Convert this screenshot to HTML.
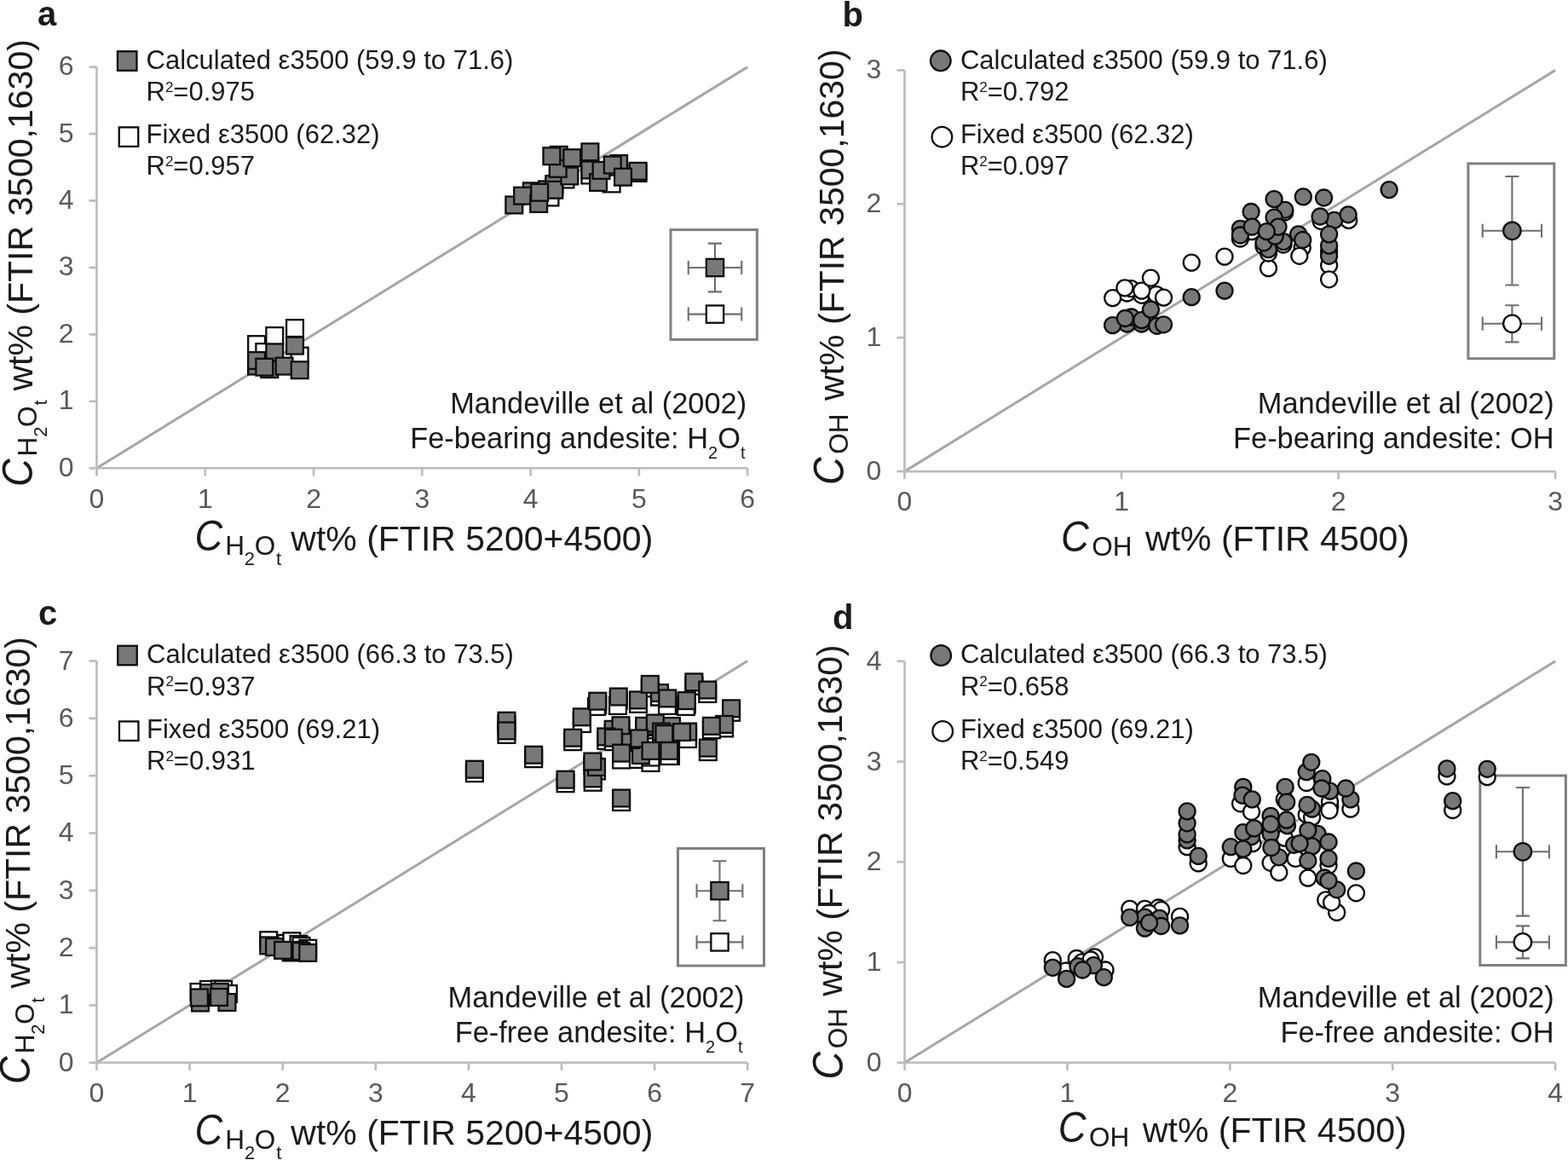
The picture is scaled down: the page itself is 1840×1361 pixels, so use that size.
<!DOCTYPE html>
<html><head><meta charset="utf-8"><title>Figure</title><style>
html,body{margin:0;padding:0;background:#fff;}
body{width:1840px;height:1361px;overflow:hidden;}
svg{display:block;}
text{font-family:"Liberation Sans",Arial,sans-serif;}
.tk{font-size:32px;fill:#595959;}
.lg{font-size:31px;fill:#1a1a1a;}
.sup{font-size:17px;}
.sub{font-size:20px;}
.md{font-size:34.4px;fill:#1a1a1a;}
.lbl{font-size:40px;font-weight:bold;fill:#1a1a1a;}
.tt{font-size:41px;fill:#1a1a1a;}
.tc{font-size:50px;font-style:italic;fill:#1a1a1a;}
.ts{font-size:31.5px;fill:#1a1a1a;}
.tss{font-size:22px;fill:#1a1a1a;}
</style></head>
<body><svg width="1840" height="1361" viewBox="0 0 1840 1361">
<rect width="1840" height="1361" fill="#fff"/>
<g>
<line x1="113.5" y1="549.3" x2="877.2" y2="78.6" stroke="#a6a6a6" stroke-width="3"/>
<line x1="113.5" y1="549.3" x2="877.2" y2="549.3" stroke="#bbbbbb" stroke-width="2.6"/>
<line x1="113.5" y1="550.6" x2="113.5" y2="78.6" stroke="#bbbbbb" stroke-width="2.6"/>
<line x1="113.5" y1="549.3" x2="113.5" y2="558.3" stroke="#bbbbbb" stroke-width="2.6"/>
<text x="113.5" y="596" text-anchor="middle" class="tk">0</text>
<line x1="240.78" y1="549.3" x2="240.78" y2="558.3" stroke="#bbbbbb" stroke-width="2.6"/>
<text x="240.78" y="596" text-anchor="middle" class="tk">1</text>
<line x1="368.07" y1="549.3" x2="368.07" y2="558.3" stroke="#bbbbbb" stroke-width="2.6"/>
<text x="368.07" y="596" text-anchor="middle" class="tk">2</text>
<line x1="495.35" y1="549.3" x2="495.35" y2="558.3" stroke="#bbbbbb" stroke-width="2.6"/>
<text x="495.35" y="596" text-anchor="middle" class="tk">3</text>
<line x1="622.63" y1="549.3" x2="622.63" y2="558.3" stroke="#bbbbbb" stroke-width="2.6"/>
<text x="622.63" y="596" text-anchor="middle" class="tk">4</text>
<line x1="749.92" y1="549.3" x2="749.92" y2="558.3" stroke="#bbbbbb" stroke-width="2.6"/>
<text x="749.92" y="596" text-anchor="middle" class="tk">5</text>
<line x1="877.2" y1="549.3" x2="877.2" y2="558.3" stroke="#bbbbbb" stroke-width="2.6"/>
<text x="877.2" y="596" text-anchor="middle" class="tk">6</text>
<line x1="104.5" y1="549.3" x2="113.5" y2="549.3" stroke="#bbbbbb" stroke-width="2.6"/>
<text x="86.5" y="558.8" text-anchor="end" class="tk">0</text>
<line x1="104.5" y1="470.85" x2="113.5" y2="470.85" stroke="#bbbbbb" stroke-width="2.6"/>
<text x="86.5" y="480.35" text-anchor="end" class="tk">1</text>
<line x1="104.5" y1="392.4" x2="113.5" y2="392.4" stroke="#bbbbbb" stroke-width="2.6"/>
<text x="86.5" y="401.9" text-anchor="end" class="tk">2</text>
<line x1="104.5" y1="313.95" x2="113.5" y2="313.95" stroke="#bbbbbb" stroke-width="2.6"/>
<text x="86.5" y="323.45" text-anchor="end" class="tk">3</text>
<line x1="104.5" y1="235.5" x2="113.5" y2="235.5" stroke="#bbbbbb" stroke-width="2.6"/>
<text x="86.5" y="245" text-anchor="end" class="tk">4</text>
<line x1="104.5" y1="157.05" x2="113.5" y2="157.05" stroke="#bbbbbb" stroke-width="2.6"/>
<text x="86.5" y="166.55" text-anchor="end" class="tk">5</text>
<line x1="104.5" y1="78.6" x2="113.5" y2="78.6" stroke="#bbbbbb" stroke-width="2.6"/>
<text x="86.5" y="88.1" text-anchor="end" class="tk">6</text>
<text x="44" y="30.3" class="lbl">a</text>
<rect x="137.95" y="60.25" width="22.5" height="22.5" fill="#787878" stroke="#0d0d0d" stroke-width="2.3"/>
<rect x="139.75" y="149.35" width="22.5" height="22.5" fill="#fff" stroke="#0d0d0d" stroke-width="2.3"/>
<text x="171.5" y="81.3" class="lg">Calculated ε3500 (59.9 to 71.6)</text>
<text x="171.5" y="118.3" class="lg">R<tspan class="sup" dy="-10.4">2</tspan><tspan dy="10.4">=0.975</tspan></text>
<text x="171.5" y="168.3" class="lg">Fixed ε3500 (62.32)</text>
<text x="171.5" y="205.2" class="lg">R<tspan class="sup" dy="-10.4">2</tspan><tspan dy="10.4">=0.957</tspan></text>
<text x="876.1" y="485.4" text-anchor="end" class="md">Mandeville et al (2002)</text>
<text x="874.5" y="526" text-anchor="end" class="md">Fe-bearing andesite: H<tspan class="sub" dy="11.8">2</tspan><tspan dy="-11.8">O</tspan><tspan class="sub" dy="11.8">t</tspan></text>
<text class="tc" transform="translate(228.5 646.2) scale(0.91 1)">C</text>
<text><tspan class="ts" x="264.2" y="650.6">H</tspan><tspan class="tss" x="286.8" y="663">2</tspan><tspan class="ts" x="298.7" y="650.6">O</tspan><tspan class="tss" x="324.05" y="663">t</tspan><tspan class="tt" x="341.3" y="646">wt% (FTIR 5200+4500)</tspan></text>
<text class="tc" transform="rotate(-90) translate(-571.1 38.2) scale(0.91 1)">C</text>
<text transform="rotate(-90)"><tspan class="ts" x="-535.4" y="42.6">H</tspan><tspan class="tss" x="-512.8" y="55">2</tspan><tspan class="ts" x="-500.9" y="42.6">O</tspan><tspan class="tss" x="-475.55" y="55">t</tspan><tspan class="tt" x="-458.6" y="38">wt% (FTIR 3500,1630)</tspan></text>
<rect x="787" y="269.6" width="101.4" height="128.8" fill="#fff" stroke="#808080" stroke-width="3"/>
<path d="M807.75 314H839M839 314H870.25M807.75 306V322M870.25 306V322" stroke="#6f6f6f" stroke-width="2.1" fill="none"/>
<path d="M839 285.6V342.4M831 285.6H847M831 342.4H847" stroke="#6f6f6f" stroke-width="2.1" fill="none"/>
<rect x="828.85" y="303.85" width="20.3" height="20.3" fill="#787878" stroke="#0d0d0d" stroke-width="2.3"/>
<path d="M807.75 368.6H839M839 368.6H870.25M807.75 360.6V376.6M870.25 360.6V376.6" stroke="#6f6f6f" stroke-width="2.1" fill="none"/>
<rect x="828.85" y="358.45" width="20.3" height="20.3" fill="#fff" stroke="#0d0d0d" stroke-width="2.3"/>
<rect x="291.2" y="394.2" width="19.8" height="19.8" fill="#fff" stroke="#0d0d0d" stroke-width="2.3"/>
<rect x="300.4" y="403.1" width="19.8" height="19.8" fill="#fff" stroke="#0d0d0d" stroke-width="2.3"/>
<rect x="312.4" y="384.1" width="19.8" height="19.8" fill="#fff" stroke="#0d0d0d" stroke-width="2.3"/>
<rect x="336.1" y="375.2" width="19.8" height="19.8" fill="#fff" stroke="#0d0d0d" stroke-width="2.3"/>
<rect x="341.8" y="407.7" width="19.8" height="19.8" fill="#fff" stroke="#0d0d0d" stroke-width="2.3"/>
<rect x="291.2" y="419.1" width="19.8" height="19.8" fill="#fff" stroke="#0d0d0d" stroke-width="2.3"/>
<rect x="682.5" y="195.6" width="19.8" height="19.8" fill="#fff" stroke="#0d0d0d" stroke-width="2.3"/>
<rect x="707.8" y="205.6" width="19.8" height="19.8" fill="#fff" stroke="#0d0d0d" stroke-width="2.3"/>
<rect x="653.6" y="200.6" width="19.8" height="19.8" fill="#fff" stroke="#0d0d0d" stroke-width="2.3"/>
<rect x="635.6" y="221.6" width="19.8" height="19.8" fill="#fff" stroke="#0d0d0d" stroke-width="2.3"/>
<rect x="640.4" y="209.1" width="19.8" height="19.8" fill="#fff" stroke="#0d0d0d" stroke-width="2.3"/>
<rect x="291.2" y="419.6" width="19.8" height="19.8" fill="#787878" stroke="#0d0d0d" stroke-width="2.3"/>
<rect x="291.2" y="413.1" width="19.8" height="19.8" fill="#787878" stroke="#0d0d0d" stroke-width="2.3"/>
<rect x="306.4" y="423.2" width="19.8" height="19.8" fill="#787878" stroke="#0d0d0d" stroke-width="2.3"/>
<rect x="312.4" y="403.5" width="19.8" height="19.8" fill="#787878" stroke="#0d0d0d" stroke-width="2.3"/>
<rect x="336.1" y="395.7" width="19.8" height="19.8" fill="#787878" stroke="#0d0d0d" stroke-width="2.3"/>
<rect x="300.4" y="420.8" width="19.8" height="19.8" fill="#787878" stroke="#0d0d0d" stroke-width="2.3"/>
<rect x="323.7" y="419.7" width="19.8" height="19.8" fill="#787878" stroke="#0d0d0d" stroke-width="2.3"/>
<rect x="341.8" y="424.3" width="19.8" height="19.8" fill="#787878" stroke="#0d0d0d" stroke-width="2.3"/>
<rect x="593.4" y="230.6" width="19.8" height="19.8" fill="#787878" stroke="#0d0d0d" stroke-width="2.3"/>
<rect x="614" y="214.4" width="19.8" height="19.8" fill="#787878" stroke="#0d0d0d" stroke-width="2.3"/>
<rect x="603.2" y="219.8" width="19.8" height="19.8" fill="#787878" stroke="#0d0d0d" stroke-width="2.3"/>
<rect x="632.1" y="212.5" width="19.8" height="19.8" fill="#787878" stroke="#0d0d0d" stroke-width="2.3"/>
<rect x="640.4" y="206.1" width="19.8" height="19.8" fill="#787878" stroke="#0d0d0d" stroke-width="2.3"/>
<rect x="640.4" y="212.9" width="19.8" height="19.8" fill="#787878" stroke="#0d0d0d" stroke-width="2.3"/>
<rect x="622.3" y="229.1" width="19.8" height="19.8" fill="#787878" stroke="#0d0d0d" stroke-width="2.3"/>
<rect x="623.3" y="215.9" width="19.8" height="19.8" fill="#787878" stroke="#0d0d0d" stroke-width="2.3"/>
<rect x="658.5" y="196.6" width="19.8" height="19.8" fill="#787878" stroke="#0d0d0d" stroke-width="2.3"/>
<rect x="645.8" y="171.9" width="19.8" height="19.8" fill="#787878" stroke="#0d0d0d" stroke-width="2.3"/>
<rect x="644.8" y="188" width="19.8" height="19.8" fill="#787878" stroke="#0d0d0d" stroke-width="2.3"/>
<rect x="637.5" y="173.3" width="19.8" height="19.8" fill="#787878" stroke="#0d0d0d" stroke-width="2.3"/>
<rect x="661.4" y="175.3" width="19.8" height="19.8" fill="#787878" stroke="#0d0d0d" stroke-width="2.3"/>
<rect x="682.5" y="189.5" width="19.8" height="19.8" fill="#787878" stroke="#0d0d0d" stroke-width="2.3"/>
<rect x="692.2" y="204.1" width="19.8" height="19.8" fill="#787878" stroke="#0d0d0d" stroke-width="2.3"/>
<rect x="695.7" y="190" width="19.8" height="19.8" fill="#787878" stroke="#0d0d0d" stroke-width="2.3"/>
<rect x="682.5" y="168.4" width="19.8" height="19.8" fill="#787878" stroke="#0d0d0d" stroke-width="2.3"/>
<rect x="716.2" y="182.1" width="19.8" height="19.8" fill="#787878" stroke="#0d0d0d" stroke-width="2.3"/>
<rect x="708.9" y="183.6" width="19.8" height="19.8" fill="#787878" stroke="#0d0d0d" stroke-width="2.3"/>
<rect x="738.7" y="193.1" width="19.8" height="19.8" fill="#787878" stroke="#0d0d0d" stroke-width="2.3"/>
<rect x="738.7" y="190.9" width="19.8" height="19.8" fill="#787878" stroke="#0d0d0d" stroke-width="2.3"/>
<rect x="721.1" y="197.8" width="19.8" height="19.8" fill="#787878" stroke="#0d0d0d" stroke-width="2.3"/>
</g>
<g>
<line x1="1061.5" y1="553.1" x2="1825.1" y2="82.4" stroke="#a6a6a6" stroke-width="3"/>
<line x1="1061.5" y1="553.1" x2="1825.1" y2="553.1" stroke="#bbbbbb" stroke-width="2.6"/>
<line x1="1061.5" y1="554.4" x2="1061.5" y2="82.4" stroke="#bbbbbb" stroke-width="2.6"/>
<line x1="1061.5" y1="553.1" x2="1061.5" y2="562.1" stroke="#bbbbbb" stroke-width="2.6"/>
<text x="1061.5" y="599.4" text-anchor="middle" class="tk">0</text>
<line x1="1316.03" y1="553.1" x2="1316.03" y2="562.1" stroke="#bbbbbb" stroke-width="2.6"/>
<text x="1316.03" y="599.4" text-anchor="middle" class="tk">1</text>
<line x1="1570.57" y1="553.1" x2="1570.57" y2="562.1" stroke="#bbbbbb" stroke-width="2.6"/>
<text x="1570.57" y="599.4" text-anchor="middle" class="tk">2</text>
<line x1="1825.1" y1="553.1" x2="1825.1" y2="562.1" stroke="#bbbbbb" stroke-width="2.6"/>
<text x="1825.1" y="599.4" text-anchor="middle" class="tk">3</text>
<line x1="1052.5" y1="553.1" x2="1061.5" y2="553.1" stroke="#bbbbbb" stroke-width="2.6"/>
<text x="1034.2" y="563.1" text-anchor="end" class="tk">0</text>
<line x1="1052.5" y1="396.2" x2="1061.5" y2="396.2" stroke="#bbbbbb" stroke-width="2.6"/>
<text x="1034.2" y="406.2" text-anchor="end" class="tk">1</text>
<line x1="1052.5" y1="239.3" x2="1061.5" y2="239.3" stroke="#bbbbbb" stroke-width="2.6"/>
<text x="1034.2" y="249.3" text-anchor="end" class="tk">2</text>
<line x1="1052.5" y1="82.4" x2="1061.5" y2="82.4" stroke="#bbbbbb" stroke-width="2.6"/>
<text x="1034.2" y="92.4" text-anchor="end" class="tk">3</text>
<text x="988.6" y="30.5" class="lbl">b</text>
<circle cx="1103.8" cy="71.3" r="11.8" fill="#787878" stroke="#0d0d0d" stroke-width="2.3"/>
<circle cx="1105.4" cy="160.7" r="11.8" fill="#fff" stroke="#0d0d0d" stroke-width="2.3"/>
<text x="1126.9" y="81.3" class="lg">Calculated ε3500 (59.9 to 71.6)</text>
<text x="1126.9" y="118.3" class="lg">R<tspan class="sup" dy="-10.4">2</tspan><tspan dy="10.4">=0.792</tspan></text>
<text x="1126.9" y="168.3" class="lg">Fixed ε3500 (62.32)</text>
<text x="1126.9" y="205.2" class="lg">R<tspan class="sup" dy="-10.4">2</tspan><tspan dy="10.4">=0.097</tspan></text>
<text x="1823.7" y="485.4" text-anchor="end" class="md">Mandeville et al (2002)</text>
<text x="1823.6" y="525.6" text-anchor="end" class="md">Fe-bearing andesite: OH</text>
<text class="tc" transform="translate(1245.1 646.5) scale(0.91 1)">C</text>
<text><tspan class="ts" x="1281.3" y="651.5">OH</tspan><tspan class="tt" x="1344.1" y="646.3">wt% (FTIR 4500)</tspan></text>
<text class="tc" transform="rotate(-90) translate(-569 990.2) scale(0.91 1)">C</text>
<text transform="rotate(-90)"><tspan class="ts" x="-532.8" y="995.2">OH</tspan><tspan class="tt" x="-469.9" y="990">wt% (FTIR 3500,1630)</tspan></text>
<rect x="1722.9" y="191.9" width="100.9" height="228.8" fill="#fff" stroke="#808080" stroke-width="3"/>
<path d="M1739.75 270.8H1774.4M1774.4 270.8H1809.05M1739.75 262.8V278.8M1809.05 262.8V278.8" stroke="#6f6f6f" stroke-width="2.1" fill="none"/>
<path d="M1774.4 207.05V334.55M1766.4 207.05H1782.4M1766.4 334.55H1782.4" stroke="#6f6f6f" stroke-width="2.1" fill="none"/>
<circle cx="1774.4" cy="270.8" r="10.25" fill="#787878" stroke="#0d0d0d" stroke-width="2.3"/>
<path d="M1739.75 379.8H1774.4M1774.4 379.8H1809.05M1739.75 371.8V387.8M1809.05 371.8V387.8" stroke="#6f6f6f" stroke-width="2.1" fill="none"/>
<path d="M1774.4 358.2V401.4M1766.4 358.2H1782.4M1766.4 401.4H1782.4" stroke="#6f6f6f" stroke-width="2.1" fill="none"/>
<circle cx="1774.4" cy="379.8" r="10.25" fill="#fff" stroke="#0d0d0d" stroke-width="2.3"/>
<circle cx="1322.5" cy="344" r="9.5" fill="#fff" stroke="#0d0d0d" stroke-width="2.3"/>
<circle cx="1339.7" cy="346.3" r="9.5" fill="#fff" stroke="#0d0d0d" stroke-width="2.3"/>
<circle cx="1357" cy="345.6" r="9.5" fill="#fff" stroke="#0d0d0d" stroke-width="2.3"/>
<circle cx="1305.7" cy="349.6" r="9.5" fill="#fff" stroke="#0d0d0d" stroke-width="2.3"/>
<circle cx="1327.2" cy="338.6" r="9.5" fill="#fff" stroke="#0d0d0d" stroke-width="2.3"/>
<circle cx="1319.9" cy="337.8" r="9.5" fill="#fff" stroke="#0d0d0d" stroke-width="2.3"/>
<circle cx="1339.7" cy="341.1" r="9.5" fill="#fff" stroke="#0d0d0d" stroke-width="2.3"/>
<circle cx="1350.4" cy="326.1" r="9.5" fill="#fff" stroke="#0d0d0d" stroke-width="2.3"/>
<circle cx="1365.5" cy="349.2" r="9.5" fill="#fff" stroke="#0d0d0d" stroke-width="2.3"/>
<circle cx="1398.2" cy="308.1" r="9.5" fill="#fff" stroke="#0d0d0d" stroke-width="2.3"/>
<circle cx="1437" cy="301.1" r="9.5" fill="#fff" stroke="#0d0d0d" stroke-width="2.3"/>
<circle cx="1488.5" cy="314.6" r="9.5" fill="#fff" stroke="#0d0d0d" stroke-width="2.3"/>
<circle cx="1468.7" cy="271.6" r="9.5" fill="#fff" stroke="#0d0d0d" stroke-width="2.3"/>
<circle cx="1507.8" cy="249" r="9.5" fill="#fff" stroke="#0d0d0d" stroke-width="2.3"/>
<circle cx="1506" cy="287" r="9.5" fill="#fff" stroke="#0d0d0d" stroke-width="2.3"/>
<circle cx="1550.2" cy="259.5" r="9.5" fill="#fff" stroke="#0d0d0d" stroke-width="2.3"/>
<circle cx="1582.7" cy="258.4" r="9.5" fill="#fff" stroke="#0d0d0d" stroke-width="2.3"/>
<circle cx="1528.2" cy="290.4" r="9.5" fill="#fff" stroke="#0d0d0d" stroke-width="2.3"/>
<circle cx="1524.8" cy="300.3" r="9.5" fill="#fff" stroke="#0d0d0d" stroke-width="2.3"/>
<circle cx="1559.6" cy="311.3" r="9.5" fill="#fff" stroke="#0d0d0d" stroke-width="2.3"/>
<circle cx="1559.6" cy="327.8" r="9.5" fill="#fff" stroke="#0d0d0d" stroke-width="2.3"/>
<circle cx="1455.4" cy="280" r="9.5" fill="#fff" stroke="#0d0d0d" stroke-width="2.3"/>
<circle cx="1483" cy="289" r="9.5" fill="#fff" stroke="#0d0d0d" stroke-width="2.3"/>
<circle cx="1496" cy="281" r="9.5" fill="#fff" stroke="#0d0d0d" stroke-width="2.3"/>
<circle cx="1488.5" cy="297" r="9.5" fill="#fff" stroke="#0d0d0d" stroke-width="2.3"/>
<circle cx="1559.6" cy="295" r="9.5" fill="#fff" stroke="#0d0d0d" stroke-width="2.3"/>
<circle cx="1322.5" cy="380" r="9.5" fill="#787878" stroke="#0d0d0d" stroke-width="2.3"/>
<circle cx="1339.7" cy="380" r="9.5" fill="#787878" stroke="#0d0d0d" stroke-width="2.3"/>
<circle cx="1357.7" cy="382.3" r="9.5" fill="#787878" stroke="#0d0d0d" stroke-width="2.3"/>
<circle cx="1305.6" cy="381.6" r="9.5" fill="#787878" stroke="#0d0d0d" stroke-width="2.3"/>
<circle cx="1327.6" cy="372" r="9.5" fill="#787878" stroke="#0d0d0d" stroke-width="2.3"/>
<circle cx="1320.3" cy="373.5" r="9.5" fill="#787878" stroke="#0d0d0d" stroke-width="2.3"/>
<circle cx="1339.7" cy="375.7" r="9.5" fill="#787878" stroke="#0d0d0d" stroke-width="2.3"/>
<circle cx="1350.4" cy="363.2" r="9.5" fill="#787878" stroke="#0d0d0d" stroke-width="2.3"/>
<circle cx="1365.5" cy="380.8" r="9.5" fill="#787878" stroke="#0d0d0d" stroke-width="2.3"/>
<circle cx="1398.2" cy="348.7" r="9.5" fill="#787878" stroke="#0d0d0d" stroke-width="2.3"/>
<circle cx="1437" cy="341.1" r="9.5" fill="#787878" stroke="#0d0d0d" stroke-width="2.3"/>
<circle cx="1468.1" cy="248.5" r="9.5" fill="#787878" stroke="#0d0d0d" stroke-width="2.3"/>
<circle cx="1507.8" cy="246.3" r="9.5" fill="#787878" stroke="#0d0d0d" stroke-width="2.3"/>
<circle cx="1495.1" cy="233.6" r="9.5" fill="#787878" stroke="#0d0d0d" stroke-width="2.3"/>
<circle cx="1495.1" cy="255.1" r="9.5" fill="#787878" stroke="#0d0d0d" stroke-width="2.3"/>
<circle cx="1529.3" cy="230.9" r="9.5" fill="#787878" stroke="#0d0d0d" stroke-width="2.3"/>
<circle cx="1553.5" cy="232" r="9.5" fill="#787878" stroke="#0d0d0d" stroke-width="2.3"/>
<circle cx="1630.1" cy="222.6" r="9.5" fill="#787878" stroke="#0d0d0d" stroke-width="2.3"/>
<circle cx="1455.4" cy="268.3" r="9.5" fill="#787878" stroke="#0d0d0d" stroke-width="2.3"/>
<circle cx="1455.4" cy="276" r="9.5" fill="#787878" stroke="#0d0d0d" stroke-width="2.3"/>
<circle cx="1469.2" cy="266.1" r="9.5" fill="#787878" stroke="#0d0d0d" stroke-width="2.3"/>
<circle cx="1488.5" cy="292.6" r="9.5" fill="#787878" stroke="#0d0d0d" stroke-width="2.3"/>
<circle cx="1483" cy="284.8" r="9.5" fill="#787878" stroke="#0d0d0d" stroke-width="2.3"/>
<circle cx="1506.1" cy="283.7" r="9.5" fill="#787878" stroke="#0d0d0d" stroke-width="2.3"/>
<circle cx="1496.2" cy="277.1" r="9.5" fill="#787878" stroke="#0d0d0d" stroke-width="2.3"/>
<circle cx="1500" cy="266.1" r="9.5" fill="#787878" stroke="#0d0d0d" stroke-width="2.3"/>
<circle cx="1486.3" cy="271.6" r="9.5" fill="#787878" stroke="#0d0d0d" stroke-width="2.3"/>
<circle cx="1523.7" cy="274.9" r="9.5" fill="#787878" stroke="#0d0d0d" stroke-width="2.3"/>
<circle cx="1528.7" cy="281.5" r="9.5" fill="#787878" stroke="#0d0d0d" stroke-width="2.3"/>
<circle cx="1565.6" cy="258.4" r="9.5" fill="#787878" stroke="#0d0d0d" stroke-width="2.3"/>
<circle cx="1549.1" cy="254" r="9.5" fill="#787878" stroke="#0d0d0d" stroke-width="2.3"/>
<circle cx="1582.1" cy="251.8" r="9.5" fill="#787878" stroke="#0d0d0d" stroke-width="2.3"/>
<circle cx="1559.6" cy="300.3" r="9.5" fill="#787878" stroke="#0d0d0d" stroke-width="2.3"/>
<circle cx="1559.6" cy="288.2" r="9.5" fill="#787878" stroke="#0d0d0d" stroke-width="2.3"/>
<circle cx="1559.6" cy="274.9" r="9.5" fill="#787878" stroke="#0d0d0d" stroke-width="2.3"/>
</g>
<g>
<line x1="113.5" y1="1246.8" x2="877.2" y2="775.5" stroke="#a6a6a6" stroke-width="3"/>
<line x1="113.5" y1="1246.8" x2="877.2" y2="1246.8" stroke="#bbbbbb" stroke-width="2.6"/>
<line x1="113.5" y1="1248.1" x2="113.5" y2="775.5" stroke="#bbbbbb" stroke-width="2.6"/>
<line x1="113.5" y1="1246.8" x2="113.5" y2="1255.8" stroke="#bbbbbb" stroke-width="2.6"/>
<text x="113.5" y="1293" text-anchor="middle" class="tk">0</text>
<line x1="222.6" y1="1246.8" x2="222.6" y2="1255.8" stroke="#bbbbbb" stroke-width="2.6"/>
<text x="222.6" y="1293" text-anchor="middle" class="tk">1</text>
<line x1="331.7" y1="1246.8" x2="331.7" y2="1255.8" stroke="#bbbbbb" stroke-width="2.6"/>
<text x="331.7" y="1293" text-anchor="middle" class="tk">2</text>
<line x1="440.8" y1="1246.8" x2="440.8" y2="1255.8" stroke="#bbbbbb" stroke-width="2.6"/>
<text x="440.8" y="1293" text-anchor="middle" class="tk">3</text>
<line x1="549.9" y1="1246.8" x2="549.9" y2="1255.8" stroke="#bbbbbb" stroke-width="2.6"/>
<text x="549.9" y="1293" text-anchor="middle" class="tk">4</text>
<line x1="659" y1="1246.8" x2="659" y2="1255.8" stroke="#bbbbbb" stroke-width="2.6"/>
<text x="659" y="1293" text-anchor="middle" class="tk">5</text>
<line x1="768.1" y1="1246.8" x2="768.1" y2="1255.8" stroke="#bbbbbb" stroke-width="2.6"/>
<text x="768.1" y="1293" text-anchor="middle" class="tk">6</text>
<line x1="877.2" y1="1246.8" x2="877.2" y2="1255.8" stroke="#bbbbbb" stroke-width="2.6"/>
<text x="877.2" y="1293" text-anchor="middle" class="tk">7</text>
<line x1="104.5" y1="1246.8" x2="113.5" y2="1246.8" stroke="#bbbbbb" stroke-width="2.6"/>
<text x="86.5" y="1256.8" text-anchor="end" class="tk">0</text>
<line x1="104.5" y1="1179.47" x2="113.5" y2="1179.47" stroke="#bbbbbb" stroke-width="2.6"/>
<text x="86.5" y="1189.47" text-anchor="end" class="tk">1</text>
<line x1="104.5" y1="1112.14" x2="113.5" y2="1112.14" stroke="#bbbbbb" stroke-width="2.6"/>
<text x="86.5" y="1122.14" text-anchor="end" class="tk">2</text>
<line x1="104.5" y1="1044.81" x2="113.5" y2="1044.81" stroke="#bbbbbb" stroke-width="2.6"/>
<text x="86.5" y="1054.81" text-anchor="end" class="tk">3</text>
<line x1="104.5" y1="977.49" x2="113.5" y2="977.49" stroke="#bbbbbb" stroke-width="2.6"/>
<text x="86.5" y="987.49" text-anchor="end" class="tk">4</text>
<line x1="104.5" y1="910.16" x2="113.5" y2="910.16" stroke="#bbbbbb" stroke-width="2.6"/>
<text x="86.5" y="920.16" text-anchor="end" class="tk">5</text>
<line x1="104.5" y1="842.83" x2="113.5" y2="842.83" stroke="#bbbbbb" stroke-width="2.6"/>
<text x="86.5" y="852.83" text-anchor="end" class="tk">6</text>
<line x1="104.5" y1="775.5" x2="113.5" y2="775.5" stroke="#bbbbbb" stroke-width="2.6"/>
<text x="86.5" y="785.5" text-anchor="end" class="tk">7</text>
<text x="45" y="733.3" class="lbl">c</text>
<rect x="138.25" y="757.75" width="22.5" height="22.5" fill="#787878" stroke="#0d0d0d" stroke-width="2.3"/>
<rect x="139.95" y="846.45" width="22.5" height="22.5" fill="#fff" stroke="#0d0d0d" stroke-width="2.3"/>
<text x="172" y="778" class="lg">Calculated ε3500 (66.3 to 73.5)</text>
<text x="172" y="815.5" class="lg">R<tspan class="sup" dy="-10.4">2</tspan><tspan dy="10.4">=0.937</tspan></text>
<text x="172" y="866.4" class="lg">Fixed ε3500 (69.21)</text>
<text x="172" y="903" class="lg">R<tspan class="sup" dy="-10.4">2</tspan><tspan dy="10.4">=0.931</tspan></text>
<text x="873.5" y="1182.4" text-anchor="end" class="md">Mandeville et al (2002)</text>
<text x="871.5" y="1223" text-anchor="end" class="md">Fe-free andesite: H<tspan class="sub" dy="11.8">2</tspan><tspan dy="-11.8">O</tspan><tspan class="sub" dy="11.8">t</tspan></text>
<text class="tc" transform="translate(228.6 1343.4) scale(0.91 1)">C</text>
<text><tspan class="ts" x="264.3" y="1347.8">H</tspan><tspan class="tss" x="286.9" y="1360.2">2</tspan><tspan class="ts" x="298.8" y="1347.8">O</tspan><tspan class="tss" x="324.15" y="1360.2">t</tspan><tspan class="tt" x="341.3" y="1343.2">wt% (FTIR 5200+4500)</tspan></text>
<text class="tc" transform="rotate(-90) translate(-1272 35.3) scale(0.91 1)">C</text>
<text transform="rotate(-90)"><tspan class="ts" x="-1236.3" y="39.7">H</tspan><tspan class="tss" x="-1213.7" y="52.1">2</tspan><tspan class="ts" x="-1201.8" y="39.7">O</tspan><tspan class="tss" x="-1176.45" y="52.1">t</tspan><tspan class="tt" x="-1159.5" y="35.1">wt% (FTIR 3500,1630)</tspan></text>
<rect x="795.5" y="995.5" width="101" height="137.6" fill="#fff" stroke="#808080" stroke-width="3"/>
<path d="M817.6 1045.2H844.5M844.5 1045.2H871.4M817.6 1037.2V1053.2M871.4 1037.2V1053.2" stroke="#6f6f6f" stroke-width="2.1" fill="none"/>
<path d="M844.5 1010.2V1080.2M836.5 1010.2H852.5M836.5 1080.2H852.5" stroke="#6f6f6f" stroke-width="2.1" fill="none"/>
<rect x="834.35" y="1035.05" width="20.3" height="20.3" fill="#787878" stroke="#0d0d0d" stroke-width="2.3"/>
<path d="M817.6 1105.4H844.5M844.5 1105.4H871.4M817.6 1097.4V1113.4M871.4 1097.4V1113.4" stroke="#6f6f6f" stroke-width="2.1" fill="none"/>
<rect x="834.35" y="1095.25" width="20.3" height="20.3" fill="#fff" stroke="#0d0d0d" stroke-width="2.3"/>
<rect x="223.6" y="1154.1" width="19.8" height="19.8" fill="#fff" stroke="#0d0d0d" stroke-width="2.3"/>
<rect x="235.1" y="1151.1" width="19.8" height="19.8" fill="#fff" stroke="#0d0d0d" stroke-width="2.3"/>
<rect x="248.1" y="1150.6" width="19.8" height="19.8" fill="#fff" stroke="#0d0d0d" stroke-width="2.3"/>
<rect x="252.1" y="1151.1" width="19.8" height="19.8" fill="#fff" stroke="#0d0d0d" stroke-width="2.3"/>
<rect x="258.1" y="1156.1" width="19.8" height="19.8" fill="#fff" stroke="#0d0d0d" stroke-width="2.3"/>
<rect x="305.3" y="1093.3" width="19.8" height="19.8" fill="#fff" stroke="#0d0d0d" stroke-width="2.3"/>
<rect x="326.5" y="1096.9" width="19.8" height="19.8" fill="#fff" stroke="#0d0d0d" stroke-width="2.3"/>
<rect x="332.5" y="1094.4" width="19.8" height="19.8" fill="#fff" stroke="#0d0d0d" stroke-width="2.3"/>
<rect x="340.6" y="1098.1" width="19.8" height="19.8" fill="#fff" stroke="#0d0d0d" stroke-width="2.3"/>
<rect x="343.6" y="1099.9" width="19.8" height="19.8" fill="#fff" stroke="#0d0d0d" stroke-width="2.3"/>
<rect x="351.3" y="1102.8" width="19.8" height="19.8" fill="#fff" stroke="#0d0d0d" stroke-width="2.3"/>
<rect x="547" y="897.3" width="19.8" height="19.8" fill="#fff" stroke="#0d0d0d" stroke-width="2.3"/>
<rect x="584.6" y="840.3" width="19.8" height="19.8" fill="#fff" stroke="#0d0d0d" stroke-width="2.3"/>
<rect x="584.6" y="852" width="19.8" height="19.8" fill="#fff" stroke="#0d0d0d" stroke-width="2.3"/>
<rect x="616.3" y="880.3" width="19.8" height="19.8" fill="#fff" stroke="#0d0d0d" stroke-width="2.3"/>
<rect x="653.7" y="909.3" width="19.8" height="19.8" fill="#fff" stroke="#0d0d0d" stroke-width="2.3"/>
<rect x="685.8" y="907.9" width="19.8" height="19.8" fill="#fff" stroke="#0d0d0d" stroke-width="2.3"/>
<rect x="690.1" y="894.6" width="19.8" height="19.8" fill="#fff" stroke="#0d0d0d" stroke-width="2.3"/>
<rect x="685.5" y="888.1" width="19.8" height="19.8" fill="#fff" stroke="#0d0d0d" stroke-width="2.3"/>
<rect x="719.2" y="931.1" width="19.8" height="19.8" fill="#fff" stroke="#0d0d0d" stroke-width="2.3"/>
<rect x="662.3" y="860.3" width="19.8" height="19.8" fill="#fff" stroke="#0d0d0d" stroke-width="2.3"/>
<rect x="672.9" y="835.9" width="19.8" height="19.8" fill="#fff" stroke="#0d0d0d" stroke-width="2.3"/>
<rect x="691.4" y="817.3" width="19.8" height="19.8" fill="#fff" stroke="#0d0d0d" stroke-width="2.3"/>
<rect x="715.9" y="812.1" width="19.8" height="19.8" fill="#fff" stroke="#0d0d0d" stroke-width="2.3"/>
<rect x="739.1" y="816" width="19.8" height="19.8" fill="#fff" stroke="#0d0d0d" stroke-width="2.3"/>
<rect x="764.1" y="807.6" width="19.8" height="19.8" fill="#fff" stroke="#0d0d0d" stroke-width="2.3"/>
<rect x="752.9" y="797.5" width="19.8" height="19.8" fill="#fff" stroke="#0d0d0d" stroke-width="2.3"/>
<rect x="773.4" y="814" width="19.8" height="19.8" fill="#fff" stroke="#0d0d0d" stroke-width="2.3"/>
<rect x="795.9" y="816.7" width="19.8" height="19.8" fill="#fff" stroke="#0d0d0d" stroke-width="2.3"/>
<rect x="804.5" y="794.9" width="19.8" height="19.8" fill="#fff" stroke="#0d0d0d" stroke-width="2.3"/>
<rect x="820.4" y="804.1" width="19.8" height="19.8" fill="#fff" stroke="#0d0d0d" stroke-width="2.3"/>
<rect x="848.2" y="825.9" width="19.8" height="19.8" fill="#fff" stroke="#0d0d0d" stroke-width="2.3"/>
<rect x="840.2" y="844.5" width="19.8" height="19.8" fill="#fff" stroke="#0d0d0d" stroke-width="2.3"/>
<rect x="825" y="846.4" width="19.8" height="19.8" fill="#fff" stroke="#0d0d0d" stroke-width="2.3"/>
<rect x="821" y="872.2" width="19.8" height="19.8" fill="#fff" stroke="#0d0d0d" stroke-width="2.3"/>
<rect x="797.2" y="853.1" width="19.8" height="19.8" fill="#fff" stroke="#0d0d0d" stroke-width="2.3"/>
<rect x="778.1" y="846.6" width="19.8" height="19.8" fill="#fff" stroke="#0d0d0d" stroke-width="2.3"/>
<rect x="790.1" y="853.6" width="19.8" height="19.8" fill="#fff" stroke="#0d0d0d" stroke-width="2.3"/>
<rect x="742.1" y="880.6" width="19.8" height="19.8" fill="#fff" stroke="#0d0d0d" stroke-width="2.3"/>
<rect x="709.8" y="850.4" width="19.8" height="19.8" fill="#fff" stroke="#0d0d0d" stroke-width="2.3"/>
<rect x="730.1" y="862.6" width="19.8" height="19.8" fill="#fff" stroke="#0d0d0d" stroke-width="2.3"/>
<rect x="718.6" y="845.8" width="19.8" height="19.8" fill="#fff" stroke="#0d0d0d" stroke-width="2.3"/>
<rect x="746.3" y="846.4" width="19.8" height="19.8" fill="#fff" stroke="#0d0d0d" stroke-width="2.3"/>
<rect x="758.9" y="843.1" width="19.8" height="19.8" fill="#fff" stroke="#0d0d0d" stroke-width="2.3"/>
<rect x="766.2" y="853.1" width="19.8" height="19.8" fill="#fff" stroke="#0d0d0d" stroke-width="2.3"/>
<rect x="701.4" y="859" width="19.8" height="19.8" fill="#fff" stroke="#0d0d0d" stroke-width="2.3"/>
<rect x="710" y="860.3" width="19.8" height="19.8" fill="#fff" stroke="#0d0d0d" stroke-width="2.3"/>
<rect x="740.4" y="861" width="19.8" height="19.8" fill="#fff" stroke="#0d0d0d" stroke-width="2.3"/>
<rect x="769.5" y="855.7" width="19.8" height="19.8" fill="#fff" stroke="#0d0d0d" stroke-width="2.3"/>
<rect x="719.2" y="878.2" width="19.8" height="19.8" fill="#fff" stroke="#0d0d0d" stroke-width="2.3"/>
<rect x="753.6" y="875.5" width="19.8" height="19.8" fill="#fff" stroke="#0d0d0d" stroke-width="2.3"/>
<rect x="775.4" y="875.5" width="19.8" height="19.8" fill="#fff" stroke="#0d0d0d" stroke-width="2.3"/>
<rect x="735.6" y="881.1" width="19.8" height="19.8" fill="#fff" stroke="#0d0d0d" stroke-width="2.3"/>
<rect x="753.6" y="885.1" width="19.8" height="19.8" fill="#fff" stroke="#0d0d0d" stroke-width="2.3"/>
<rect x="777.1" y="877.1" width="19.8" height="19.8" fill="#fff" stroke="#0d0d0d" stroke-width="2.3"/>
<rect x="797.1" y="857.1" width="19.8" height="19.8" fill="#fff" stroke="#0d0d0d" stroke-width="2.3"/>
<rect x="673.1" y="839.1" width="19.8" height="19.8" fill="#fff" stroke="#0d0d0d" stroke-width="2.3"/>
<rect x="715.1" y="818.1" width="19.8" height="19.8" fill="#fff" stroke="#0d0d0d" stroke-width="2.3"/>
<rect x="719.2" y="881.6" width="19.8" height="19.8" fill="#fff" stroke="#0d0d0d" stroke-width="2.3"/>
<rect x="753.6" y="878.6" width="19.8" height="19.8" fill="#fff" stroke="#0d0d0d" stroke-width="2.3"/>
<rect x="775.4" y="877.1" width="19.8" height="19.8" fill="#fff" stroke="#0d0d0d" stroke-width="2.3"/>
<rect x="764.1" y="807.6" width="19.8" height="19.8" fill="#fff" stroke="#0d0d0d" stroke-width="2.3"/>
<rect x="690.1" y="894.1" width="19.8" height="19.8" fill="#fff" stroke="#0d0d0d" stroke-width="2.3"/>
<rect x="773.1" y="818.1" width="19.8" height="19.8" fill="#fff" stroke="#0d0d0d" stroke-width="2.3"/>
<rect x="795.1" y="819.1" width="19.8" height="19.8" fill="#fff" stroke="#0d0d0d" stroke-width="2.3"/>
<rect x="690.1" y="819.1" width="19.8" height="19.8" fill="#fff" stroke="#0d0d0d" stroke-width="2.3"/>
<rect x="235.1" y="1155.1" width="19.8" height="19.8" fill="#787878" stroke="#0d0d0d" stroke-width="2.3"/>
<rect x="248.1" y="1154.1" width="19.8" height="19.8" fill="#787878" stroke="#0d0d0d" stroke-width="2.3"/>
<rect x="225.1" y="1166.6" width="19.8" height="19.8" fill="#787878" stroke="#0d0d0d" stroke-width="2.3"/>
<rect x="256.6" y="1166.1" width="19.8" height="19.8" fill="#787878" stroke="#0d0d0d" stroke-width="2.3"/>
<rect x="224" y="1160.5" width="19.8" height="19.8" fill="#787878" stroke="#0d0d0d" stroke-width="2.3"/>
<rect x="247.1" y="1160.1" width="19.8" height="19.8" fill="#787878" stroke="#0d0d0d" stroke-width="2.3"/>
<rect x="305.3" y="1099.5" width="19.8" height="19.8" fill="#787878" stroke="#0d0d0d" stroke-width="2.3"/>
<rect x="312.1" y="1101.1" width="19.8" height="19.8" fill="#787878" stroke="#0d0d0d" stroke-width="2.3"/>
<rect x="332.5" y="1107.5" width="19.8" height="19.8" fill="#787878" stroke="#0d0d0d" stroke-width="2.3"/>
<rect x="331.7" y="1107.1" width="19.8" height="19.8" fill="#787878" stroke="#0d0d0d" stroke-width="2.3"/>
<rect x="340.6" y="1105.1" width="19.8" height="19.8" fill="#787878" stroke="#0d0d0d" stroke-width="2.3"/>
<rect x="343.6" y="1106.1" width="19.8" height="19.8" fill="#787878" stroke="#0d0d0d" stroke-width="2.3"/>
<rect x="351.3" y="1108" width="19.8" height="19.8" fill="#787878" stroke="#0d0d0d" stroke-width="2.3"/>
<rect x="322.2" y="1105" width="19.8" height="19.8" fill="#787878" stroke="#0d0d0d" stroke-width="2.3"/>
<rect x="547" y="892.8" width="19.8" height="19.8" fill="#787878" stroke="#0d0d0d" stroke-width="2.3"/>
<rect x="584.6" y="835.8" width="19.8" height="19.8" fill="#787878" stroke="#0d0d0d" stroke-width="2.3"/>
<rect x="584.6" y="847.5" width="19.8" height="19.8" fill="#787878" stroke="#0d0d0d" stroke-width="2.3"/>
<rect x="616.3" y="875.8" width="19.8" height="19.8" fill="#787878" stroke="#0d0d0d" stroke-width="2.3"/>
<rect x="653.7" y="904.8" width="19.8" height="19.8" fill="#787878" stroke="#0d0d0d" stroke-width="2.3"/>
<rect x="685.8" y="903.4" width="19.8" height="19.8" fill="#787878" stroke="#0d0d0d" stroke-width="2.3"/>
<rect x="690.1" y="890.1" width="19.8" height="19.8" fill="#787878" stroke="#0d0d0d" stroke-width="2.3"/>
<rect x="685.5" y="883.6" width="19.8" height="19.8" fill="#787878" stroke="#0d0d0d" stroke-width="2.3"/>
<rect x="719.2" y="926.6" width="19.8" height="19.8" fill="#787878" stroke="#0d0d0d" stroke-width="2.3"/>
<rect x="662.3" y="855.8" width="19.8" height="19.8" fill="#787878" stroke="#0d0d0d" stroke-width="2.3"/>
<rect x="672.9" y="831.4" width="19.8" height="19.8" fill="#787878" stroke="#0d0d0d" stroke-width="2.3"/>
<rect x="691.4" y="812.8" width="19.8" height="19.8" fill="#787878" stroke="#0d0d0d" stroke-width="2.3"/>
<rect x="715.9" y="807.6" width="19.8" height="19.8" fill="#787878" stroke="#0d0d0d" stroke-width="2.3"/>
<rect x="739.1" y="811.5" width="19.8" height="19.8" fill="#787878" stroke="#0d0d0d" stroke-width="2.3"/>
<rect x="764.1" y="803.1" width="19.8" height="19.8" fill="#787878" stroke="#0d0d0d" stroke-width="2.3"/>
<rect x="752.9" y="793" width="19.8" height="19.8" fill="#787878" stroke="#0d0d0d" stroke-width="2.3"/>
<rect x="773.4" y="809.5" width="19.8" height="19.8" fill="#787878" stroke="#0d0d0d" stroke-width="2.3"/>
<rect x="795.9" y="812.2" width="19.8" height="19.8" fill="#787878" stroke="#0d0d0d" stroke-width="2.3"/>
<rect x="804.5" y="790.4" width="19.8" height="19.8" fill="#787878" stroke="#0d0d0d" stroke-width="2.3"/>
<rect x="820.4" y="799.6" width="19.8" height="19.8" fill="#787878" stroke="#0d0d0d" stroke-width="2.3"/>
<rect x="848.2" y="821.4" width="19.8" height="19.8" fill="#787878" stroke="#0d0d0d" stroke-width="2.3"/>
<rect x="840.2" y="840" width="19.8" height="19.8" fill="#787878" stroke="#0d0d0d" stroke-width="2.3"/>
<rect x="825" y="841.9" width="19.8" height="19.8" fill="#787878" stroke="#0d0d0d" stroke-width="2.3"/>
<rect x="821" y="867.7" width="19.8" height="19.8" fill="#787878" stroke="#0d0d0d" stroke-width="2.3"/>
<rect x="797.2" y="848.6" width="19.8" height="19.8" fill="#787878" stroke="#0d0d0d" stroke-width="2.3"/>
<rect x="778.1" y="842.1" width="19.8" height="19.8" fill="#787878" stroke="#0d0d0d" stroke-width="2.3"/>
<rect x="790.1" y="849.1" width="19.8" height="19.8" fill="#787878" stroke="#0d0d0d" stroke-width="2.3"/>
<rect x="742.1" y="876.1" width="19.8" height="19.8" fill="#787878" stroke="#0d0d0d" stroke-width="2.3"/>
<rect x="709.8" y="845.9" width="19.8" height="19.8" fill="#787878" stroke="#0d0d0d" stroke-width="2.3"/>
<rect x="730.1" y="858.1" width="19.8" height="19.8" fill="#787878" stroke="#0d0d0d" stroke-width="2.3"/>
<rect x="718.6" y="841.3" width="19.8" height="19.8" fill="#787878" stroke="#0d0d0d" stroke-width="2.3"/>
<rect x="746.3" y="841.9" width="19.8" height="19.8" fill="#787878" stroke="#0d0d0d" stroke-width="2.3"/>
<rect x="758.9" y="838.6" width="19.8" height="19.8" fill="#787878" stroke="#0d0d0d" stroke-width="2.3"/>
<rect x="766.2" y="848.6" width="19.8" height="19.8" fill="#787878" stroke="#0d0d0d" stroke-width="2.3"/>
<rect x="701.4" y="854.5" width="19.8" height="19.8" fill="#787878" stroke="#0d0d0d" stroke-width="2.3"/>
<rect x="710" y="855.8" width="19.8" height="19.8" fill="#787878" stroke="#0d0d0d" stroke-width="2.3"/>
<rect x="740.4" y="856.5" width="19.8" height="19.8" fill="#787878" stroke="#0d0d0d" stroke-width="2.3"/>
<rect x="769.5" y="851.2" width="19.8" height="19.8" fill="#787878" stroke="#0d0d0d" stroke-width="2.3"/>
<rect x="719.2" y="873.7" width="19.8" height="19.8" fill="#787878" stroke="#0d0d0d" stroke-width="2.3"/>
<rect x="753.6" y="871" width="19.8" height="19.8" fill="#787878" stroke="#0d0d0d" stroke-width="2.3"/>
<rect x="775.4" y="871" width="19.8" height="19.8" fill="#787878" stroke="#0d0d0d" stroke-width="2.3"/>
</g>
<g>
<line x1="1061.6" y1="1246.8" x2="1825.1" y2="775.8" stroke="#a6a6a6" stroke-width="3"/>
<line x1="1061.6" y1="1246.8" x2="1825.1" y2="1246.8" stroke="#bbbbbb" stroke-width="2.6"/>
<line x1="1061.6" y1="1248.1" x2="1061.6" y2="775.8" stroke="#bbbbbb" stroke-width="2.6"/>
<line x1="1061.6" y1="1246.8" x2="1061.6" y2="1255.8" stroke="#bbbbbb" stroke-width="2.6"/>
<text x="1061.6" y="1293" text-anchor="middle" class="tk">0</text>
<line x1="1252.47" y1="1246.8" x2="1252.47" y2="1255.8" stroke="#bbbbbb" stroke-width="2.6"/>
<text x="1252.47" y="1293" text-anchor="middle" class="tk">1</text>
<line x1="1443.35" y1="1246.8" x2="1443.35" y2="1255.8" stroke="#bbbbbb" stroke-width="2.6"/>
<text x="1443.35" y="1293" text-anchor="middle" class="tk">2</text>
<line x1="1634.22" y1="1246.8" x2="1634.22" y2="1255.8" stroke="#bbbbbb" stroke-width="2.6"/>
<text x="1634.22" y="1293" text-anchor="middle" class="tk">3</text>
<line x1="1825.1" y1="1246.8" x2="1825.1" y2="1255.8" stroke="#bbbbbb" stroke-width="2.6"/>
<text x="1825.1" y="1293" text-anchor="middle" class="tk">4</text>
<line x1="1052.6" y1="1246.8" x2="1061.6" y2="1246.8" stroke="#bbbbbb" stroke-width="2.6"/>
<text x="1034.5" y="1256.8" text-anchor="end" class="tk">0</text>
<line x1="1052.6" y1="1129.05" x2="1061.6" y2="1129.05" stroke="#bbbbbb" stroke-width="2.6"/>
<text x="1034.5" y="1139.05" text-anchor="end" class="tk">1</text>
<line x1="1052.6" y1="1011.3" x2="1061.6" y2="1011.3" stroke="#bbbbbb" stroke-width="2.6"/>
<text x="1034.5" y="1021.3" text-anchor="end" class="tk">2</text>
<line x1="1052.6" y1="893.55" x2="1061.6" y2="893.55" stroke="#bbbbbb" stroke-width="2.6"/>
<text x="1034.5" y="903.55" text-anchor="end" class="tk">3</text>
<line x1="1052.6" y1="775.8" x2="1061.6" y2="775.8" stroke="#bbbbbb" stroke-width="2.6"/>
<text x="1034.5" y="785.8" text-anchor="end" class="tk">4</text>
<text x="977" y="738" class="lbl">d</text>
<circle cx="1104.2" cy="769" r="11.8" fill="#787878" stroke="#0d0d0d" stroke-width="2.3"/>
<circle cx="1106.2" cy="857.9" r="11.8" fill="#fff" stroke="#0d0d0d" stroke-width="2.3"/>
<text x="1126.9" y="778" class="lg">Calculated ε3500 (66.3 to 73.5)</text>
<text x="1126.9" y="815.5" class="lg">R<tspan class="sup" dy="-10.4">2</tspan><tspan dy="10.4">=0.658</tspan></text>
<text x="1126.9" y="866.4" class="lg">Fixed ε3500 (69.21)</text>
<text x="1126.9" y="903" class="lg">R<tspan class="sup" dy="-10.4">2</tspan><tspan dy="10.4">=0.549</tspan></text>
<text x="1823.7" y="1182.2" text-anchor="end" class="md">Mandeville et al (2002)</text>
<text x="1823.6" y="1223.3" text-anchor="end" class="md">Fe-free andesite: OH</text>
<text class="tc" transform="translate(1241.8 1340.4) scale(0.91 1)">C</text>
<text><tspan class="ts" x="1278" y="1345.4">OH</tspan><tspan class="tt" x="1340.9" y="1340.2">wt% (FTIR 4500)</tspan></text>
<text class="tc" transform="rotate(-90) translate(-1266.5 988.6) scale(0.91 1)">C</text>
<text transform="rotate(-90)"><tspan class="ts" x="-1230.3" y="993.6">OH</tspan><tspan class="tt" x="-1168.7" y="988.4">wt% (FTIR 3500,1630)</tspan></text>
<rect x="1736.8" y="910" width="100.6" height="222.5" fill="#fff" stroke="#808080" stroke-width="3"/>
<path d="M1755.9 999.3H1786.9M1786.9 999.3H1817.9M1755.9 991.3V1007.3M1817.9 991.3V1007.3" stroke="#6f6f6f" stroke-width="2.1" fill="none"/>
<path d="M1786.9 924V1074.6M1778.9 924H1794.9M1778.9 1074.6H1794.9" stroke="#6f6f6f" stroke-width="2.1" fill="none"/>
<circle cx="1786.9" cy="999.3" r="10.25" fill="#787878" stroke="#0d0d0d" stroke-width="2.3"/>
<path d="M1755.9 1105.4H1786.9M1786.9 1105.4H1817.9M1755.9 1097.4V1113.4M1817.9 1097.4V1113.4" stroke="#6f6f6f" stroke-width="2.1" fill="none"/>
<path d="M1786.9 1086.4V1124.4M1778.9 1086.4H1794.9M1778.9 1124.4H1794.9" stroke="#6f6f6f" stroke-width="2.1" fill="none"/>
<circle cx="1786.9" cy="1105.4" r="10.25" fill="#fff" stroke="#0d0d0d" stroke-width="2.3"/>
<circle cx="1235.3" cy="1126.6" r="9.5" fill="#fff" stroke="#0d0d0d" stroke-width="2.3"/>
<circle cx="1250.5" cy="1139.1" r="9.5" fill="#fff" stroke="#0d0d0d" stroke-width="2.3"/>
<circle cx="1263.3" cy="1124.5" r="9.5" fill="#fff" stroke="#0d0d0d" stroke-width="2.3"/>
<circle cx="1269.8" cy="1128.8" r="9.5" fill="#fff" stroke="#0d0d0d" stroke-width="2.3"/>
<circle cx="1284.5" cy="1122.8" r="9.5" fill="#fff" stroke="#0d0d0d" stroke-width="2.3"/>
<circle cx="1280" cy="1126" r="9.5" fill="#fff" stroke="#0d0d0d" stroke-width="2.3"/>
<circle cx="1297" cy="1138" r="9.5" fill="#fff" stroke="#0d0d0d" stroke-width="2.3"/>
<circle cx="1325.8" cy="1066.3" r="9.5" fill="#fff" stroke="#0d0d0d" stroke-width="2.3"/>
<circle cx="1343.4" cy="1066.3" r="9.5" fill="#fff" stroke="#0d0d0d" stroke-width="2.3"/>
<circle cx="1359.4" cy="1065" r="9.5" fill="#fff" stroke="#0d0d0d" stroke-width="2.3"/>
<circle cx="1362.6" cy="1067.6" r="9.5" fill="#fff" stroke="#0d0d0d" stroke-width="2.3"/>
<circle cx="1348.3" cy="1071.5" r="9.5" fill="#fff" stroke="#0d0d0d" stroke-width="2.3"/>
<circle cx="1384.5" cy="1075.4" r="9.5" fill="#fff" stroke="#0d0d0d" stroke-width="2.3"/>
<circle cx="1393.1" cy="993.6" r="9.5" fill="#fff" stroke="#0d0d0d" stroke-width="2.3"/>
<circle cx="1406.2" cy="1012.9" r="9.5" fill="#fff" stroke="#0d0d0d" stroke-width="2.3"/>
<circle cx="1533.2" cy="918.5" r="9.5" fill="#fff" stroke="#0d0d0d" stroke-width="2.3"/>
<circle cx="1455.6" cy="942.8" r="9.5" fill="#fff" stroke="#0d0d0d" stroke-width="2.3"/>
<circle cx="1468.5" cy="952.5" r="9.5" fill="#fff" stroke="#0d0d0d" stroke-width="2.3"/>
<circle cx="1507.3" cy="937.9" r="9.5" fill="#fff" stroke="#0d0d0d" stroke-width="2.3"/>
<circle cx="1533.2" cy="955.7" r="9.5" fill="#fff" stroke="#0d0d0d" stroke-width="2.3"/>
<circle cx="1539.6" cy="958.9" r="9.5" fill="#fff" stroke="#0d0d0d" stroke-width="2.3"/>
<circle cx="1584.9" cy="949.2" r="9.5" fill="#fff" stroke="#0d0d0d" stroke-width="2.3"/>
<circle cx="1560.7" cy="946" r="9.5" fill="#fff" stroke="#0d0d0d" stroke-width="2.3"/>
<circle cx="1444.3" cy="1007.4" r="9.5" fill="#fff" stroke="#0d0d0d" stroke-width="2.3"/>
<circle cx="1458.8" cy="1015.5" r="9.5" fill="#fff" stroke="#0d0d0d" stroke-width="2.3"/>
<circle cx="1491.1" cy="1012.3" r="9.5" fill="#fff" stroke="#0d0d0d" stroke-width="2.3"/>
<circle cx="1500.8" cy="1023.6" r="9.5" fill="#fff" stroke="#0d0d0d" stroke-width="2.3"/>
<circle cx="1520.2" cy="1007.4" r="9.5" fill="#fff" stroke="#0d0d0d" stroke-width="2.3"/>
<circle cx="1534.8" cy="1030.1" r="9.5" fill="#fff" stroke="#0d0d0d" stroke-width="2.3"/>
<circle cx="1555.8" cy="1055.9" r="9.5" fill="#fff" stroke="#0d0d0d" stroke-width="2.3"/>
<circle cx="1568.7" cy="1070.5" r="9.5" fill="#fff" stroke="#0d0d0d" stroke-width="2.3"/>
<circle cx="1591.4" cy="1047.8" r="9.5" fill="#fff" stroke="#0d0d0d" stroke-width="2.3"/>
<circle cx="1470" cy="989.6" r="9.5" fill="#fff" stroke="#0d0d0d" stroke-width="2.3"/>
<circle cx="1559" cy="1015.5" r="9.5" fill="#fff" stroke="#0d0d0d" stroke-width="2.3"/>
<circle cx="1507.3" cy="983.2" r="9.5" fill="#fff" stroke="#0d0d0d" stroke-width="2.3"/>
<circle cx="1562.6" cy="1058.8" r="9.5" fill="#fff" stroke="#0d0d0d" stroke-width="2.3"/>
<circle cx="1560.5" cy="940.5" r="9.5" fill="#fff" stroke="#0d0d0d" stroke-width="2.3"/>
<circle cx="1560" cy="951" r="9.5" fill="#fff" stroke="#0d0d0d" stroke-width="2.3"/>
<circle cx="1697.9" cy="910.9" r="9.5" fill="#fff" stroke="#0d0d0d" stroke-width="2.3"/>
<circle cx="1704.7" cy="950.5" r="9.5" fill="#fff" stroke="#0d0d0d" stroke-width="2.3"/>
<circle cx="1745.2" cy="911.7" r="9.5" fill="#fff" stroke="#0d0d0d" stroke-width="2.3"/>
<circle cx="1264.9" cy="1133.7" r="9.5" fill="#787878" stroke="#0d0d0d" stroke-width="2.3"/>
<circle cx="1235.3" cy="1135.3" r="9.5" fill="#787878" stroke="#0d0d0d" stroke-width="2.3"/>
<circle cx="1251.6" cy="1148.4" r="9.5" fill="#787878" stroke="#0d0d0d" stroke-width="2.3"/>
<circle cx="1283.4" cy="1132.6" r="9.5" fill="#787878" stroke="#0d0d0d" stroke-width="2.3"/>
<circle cx="1270.3" cy="1138" r="9.5" fill="#787878" stroke="#0d0d0d" stroke-width="2.3"/>
<circle cx="1295.3" cy="1146.7" r="9.5" fill="#787878" stroke="#0d0d0d" stroke-width="2.3"/>
<circle cx="1343.4" cy="1076.1" r="9.5" fill="#787878" stroke="#0d0d0d" stroke-width="2.3"/>
<circle cx="1325.8" cy="1076.4" r="9.5" fill="#787878" stroke="#0d0d0d" stroke-width="2.3"/>
<circle cx="1343.4" cy="1089.1" r="9.5" fill="#787878" stroke="#0d0d0d" stroke-width="2.3"/>
<circle cx="1360.7" cy="1077.4" r="9.5" fill="#787878" stroke="#0d0d0d" stroke-width="2.3"/>
<circle cx="1362.6" cy="1086.5" r="9.5" fill="#787878" stroke="#0d0d0d" stroke-width="2.3"/>
<circle cx="1348.6" cy="1082.6" r="9.5" fill="#787878" stroke="#0d0d0d" stroke-width="2.3"/>
<circle cx="1384.5" cy="1085.9" r="9.5" fill="#787878" stroke="#0d0d0d" stroke-width="2.3"/>
<circle cx="1393.1" cy="985.9" r="9.5" fill="#787878" stroke="#0d0d0d" stroke-width="2.3"/>
<circle cx="1393.1" cy="978.9" r="9.5" fill="#787878" stroke="#0d0d0d" stroke-width="2.3"/>
<circle cx="1393.1" cy="965.8" r="9.5" fill="#787878" stroke="#0d0d0d" stroke-width="2.3"/>
<circle cx="1393.1" cy="951.9" r="9.5" fill="#787878" stroke="#0d0d0d" stroke-width="2.3"/>
<circle cx="1406.2" cy="1004.4" r="9.5" fill="#787878" stroke="#0d0d0d" stroke-width="2.3"/>
<circle cx="1533.2" cy="905.6" r="9.5" fill="#787878" stroke="#0d0d0d" stroke-width="2.3"/>
<circle cx="1538.8" cy="894.3" r="9.5" fill="#787878" stroke="#0d0d0d" stroke-width="2.3"/>
<circle cx="1551.8" cy="913.7" r="9.5" fill="#787878" stroke="#0d0d0d" stroke-width="2.3"/>
<circle cx="1560.7" cy="928.2" r="9.5" fill="#787878" stroke="#0d0d0d" stroke-width="2.3"/>
<circle cx="1551" cy="925" r="9.5" fill="#787878" stroke="#0d0d0d" stroke-width="2.3"/>
<circle cx="1584.9" cy="937.9" r="9.5" fill="#787878" stroke="#0d0d0d" stroke-width="2.3"/>
<circle cx="1579.3" cy="925" r="9.5" fill="#787878" stroke="#0d0d0d" stroke-width="2.3"/>
<circle cx="1508.1" cy="923.4" r="9.5" fill="#787878" stroke="#0d0d0d" stroke-width="2.3"/>
<circle cx="1509.7" cy="941.1" r="9.5" fill="#787878" stroke="#0d0d0d" stroke-width="2.3"/>
<circle cx="1539.6" cy="949.2" r="9.5" fill="#787878" stroke="#0d0d0d" stroke-width="2.3"/>
<circle cx="1534" cy="944.4" r="9.5" fill="#787878" stroke="#0d0d0d" stroke-width="2.3"/>
<circle cx="1458.8" cy="923.4" r="9.5" fill="#787878" stroke="#0d0d0d" stroke-width="2.3"/>
<circle cx="1458" cy="933.1" r="9.5" fill="#787878" stroke="#0d0d0d" stroke-width="2.3"/>
<circle cx="1469.3" cy="937.9" r="9.5" fill="#787878" stroke="#0d0d0d" stroke-width="2.3"/>
<circle cx="1510.5" cy="968.6" r="9.5" fill="#787878" stroke="#0d0d0d" stroke-width="2.3"/>
<circle cx="1509.7" cy="962.2" r="9.5" fill="#787878" stroke="#0d0d0d" stroke-width="2.3"/>
<circle cx="1491.1" cy="957.3" r="9.5" fill="#787878" stroke="#0d0d0d" stroke-width="2.3"/>
<circle cx="1491.1" cy="978.3" r="9.5" fill="#787878" stroke="#0d0d0d" stroke-width="2.3"/>
<circle cx="1491.1" cy="967" r="9.5" fill="#787878" stroke="#0d0d0d" stroke-width="2.3"/>
<circle cx="1468.5" cy="981.6" r="9.5" fill="#787878" stroke="#0d0d0d" stroke-width="2.3"/>
<circle cx="1458.8" cy="976.7" r="9.5" fill="#787878" stroke="#0d0d0d" stroke-width="2.3"/>
<circle cx="1471.7" cy="971.9" r="9.5" fill="#787878" stroke="#0d0d0d" stroke-width="2.3"/>
<circle cx="1444.3" cy="993.7" r="9.5" fill="#787878" stroke="#0d0d0d" stroke-width="2.3"/>
<circle cx="1458.8" cy="996.1" r="9.5" fill="#787878" stroke="#0d0d0d" stroke-width="2.3"/>
<circle cx="1500.8" cy="1005.8" r="9.5" fill="#787878" stroke="#0d0d0d" stroke-width="2.3"/>
<circle cx="1491.9" cy="994.5" r="9.5" fill="#787878" stroke="#0d0d0d" stroke-width="2.3"/>
<circle cx="1546.1" cy="978.3" r="9.5" fill="#787878" stroke="#0d0d0d" stroke-width="2.3"/>
<circle cx="1534.8" cy="974.3" r="9.5" fill="#787878" stroke="#0d0d0d" stroke-width="2.3"/>
<circle cx="1539.6" cy="992.9" r="9.5" fill="#787878" stroke="#0d0d0d" stroke-width="2.3"/>
<circle cx="1518.6" cy="991.3" r="9.5" fill="#787878" stroke="#0d0d0d" stroke-width="2.3"/>
<circle cx="1525.1" cy="989.6" r="9.5" fill="#787878" stroke="#0d0d0d" stroke-width="2.3"/>
<circle cx="1559" cy="988" r="9.5" fill="#787878" stroke="#0d0d0d" stroke-width="2.3"/>
<circle cx="1534.8" cy="1009.9" r="9.5" fill="#787878" stroke="#0d0d0d" stroke-width="2.3"/>
<circle cx="1559" cy="1007.4" r="9.5" fill="#787878" stroke="#0d0d0d" stroke-width="2.3"/>
<circle cx="1568.7" cy="1043.8" r="9.5" fill="#787878" stroke="#0d0d0d" stroke-width="2.3"/>
<circle cx="1554.2" cy="1030" r="9.5" fill="#787878" stroke="#0d0d0d" stroke-width="2.3"/>
<circle cx="1559" cy="1033.3" r="9.5" fill="#787878" stroke="#0d0d0d" stroke-width="2.3"/>
<circle cx="1591.4" cy="1022" r="9.5" fill="#787878" stroke="#0d0d0d" stroke-width="2.3"/>
<circle cx="1697.9" cy="901.8" r="9.5" fill="#787878" stroke="#0d0d0d" stroke-width="2.3"/>
<circle cx="1704.7" cy="939.7" r="9.5" fill="#787878" stroke="#0d0d0d" stroke-width="2.3"/>
<circle cx="1745.2" cy="902.3" r="9.5" fill="#787878" stroke="#0d0d0d" stroke-width="2.3"/>
</g>
</svg></body></html>
